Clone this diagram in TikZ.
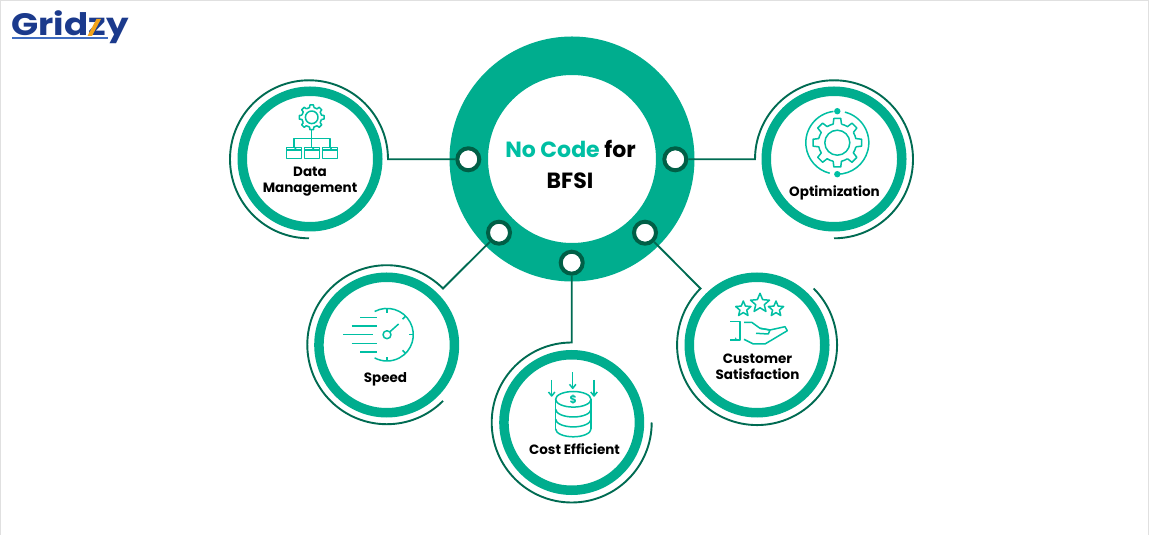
\documentclass[tikz,border=0pt]{standalone}
\usepackage{fontspec}
\setmainfont{Poppins}
\usepackage{xcolor}

\definecolor{ringteal}{HTML}{00AD8E}
\definecolor{iconteal}{HTML}{00BFA3}
\definecolor{wiregreen}{HTML}{006B52}
\definecolor{dotgreen}{HTML}{005F46}
\definecolor{logonavy}{HTML}{1B3A8C}
\definecolor{logoline}{HTML}{3F6CC0}
\definecolor{logoorange}{HTML}{F2A31B}

\tikzset{
  hubring/.style={circle, draw=ringteal, line width=38.5pt, minimum size=206.5pt, inner sep=0pt, fill=white},
  topicring/.style={circle, draw=ringteal, line width=9.5pt, minimum size=135.5pt, inner sep=0pt, fill=white},
  portdot/.style={circle, draw=dotgreen, line width=4pt, minimum size=22pt, inner sep=0pt, fill=white},
  wire/.style={draw=wiregreen, line width=1.9pt},
  iconline/.style={draw=iconteal, line width=1.5pt, line join=round},
  topiclabel/.style={font=\bfseries\fontsize{13.5}{16}\selectfont, align=center, inner sep=0pt, text=black},
}

% gear outline: teeth, root radius, tip radius
\newcommand{\gearline}[3]{
  \pgfmathsetmacro{\gearstep}{360/#1}
  \foreach \i in {1,...,#1}{
    \pgfmathsetmacro{\ga}{(\i-1)*\gearstep+90}
    \pgfmathsetmacro{\gw}{\gearstep*0.28}
    \pgfmathsetmacro{\gt}{\gearstep*0.18}
    \draw[iconline] (\ga-\gw:#2) -- (\ga-\gt:#3) -- (\ga+\gt:#3) -- (\ga+\gw:#2)
      arc[start angle=\ga+\gw, end angle=\ga+\gearstep-\gw, radius=#2];
  }
}

% five pointed star round a point: x, y, radius
\newcommand{\starline}[3]{
  \draw[iconline, shift={(#1,#2)}] (90:#3)
    \foreach \k in {1,...,9}{ -- ({90+\k*36}:{#3*(1-0.55*mod(\k,2))}) } -- cycle;
}

\begin{document}
\begin{tikzpicture}[x=1pt, y=1pt]
  \useasboundingbox (0,0) rectangle (1150,535);
  \draw[black!12, line width=1pt] (0.5,0) -- (0.5,534.5) -- (1148.5,534.5) -- (1148.5,0);

  % logo
  \node[anchor=base west, inner sep=0pt, text=logonavy, xscale=1.15, font=\bfseries\fontsize{31}{31}\selectfont] (logo) at (11,499) {Gridzy};
  \fill[logoorange] (87.5,499) -- (92,499) -- (101,516) -- (96.5,516) -- cycle;
  \draw[logoline, line width=1.2pt] (12,497) -- (108,497);

  % hub
  \node[hubring] (hub) at (572,376) {};
  \node[font=\bfseries\fontsize{22}{22}\selectfont, inner sep=0pt] (hubtop) at (570.5,386) {\textcolor{iconteal}{No Code} for};
  \node[font=\bfseries\fontsize{22}{22}\selectfont, inner sep=0pt] (hubbottom) at (570,354.5) {BFSI};

  % topics
  \node[topicring] (data) at (310,376) {};
  \node[topicring] (opt) at (834,376) {};
  \node[topicring] (speed) at (386.7,190) {};
  \node[topicring] (cost) at (571.7,112.5) {};
  \node[topicring] (cust) at (757,190) {};

  % ports
  \node[portdot] (portdata) at (468.3,375.7) {};
  \node[portdot] (portopt) at (675.3,375.7) {};
  \node[portdot] (portspeed) at (499,302.3) {};
  \node[portdot] (portcost) at (571.7,272.3) {};
  \node[portdot] (portcust) at (645,302.3) {};

  % free ends of the wires
  \coordinate (datawire) at (388,375.7);
  \coordinate (optwire) at (755,375.7);
  \coordinate (speedwire) at (443,246.5);
  \coordinate (costwire) at (571.7,192.5);
  \coordinate (custwire) at (700.5,246.5);

  % wires, each runs on into the arc round its topic
  \draw[wire] (portdata) -- (datawire) arc[start angle=0, end angle=270, radius=79];
  \draw[wire] (portopt) -- (optwire) arc[start angle=180, end angle=-90, radius=79];
  \draw[wire] (portspeed) -- (speedwire) arc[start angle=45, end angle=315, radius=79.5];
  \draw[wire] (portcost) -- (costwire) arc[start angle=90, end angle=360, radius=80];
  \draw[wire] (portcust) -- (custwire) arc[start angle=135, end angle=405, radius=80];

  % labels
  \node[topiclabel] (datatext) at (310,353) {Data\\Management};
  \node[topiclabel] (opttext) at (834.5,342.5) {Optimization};
  \node[topiclabel] (speedtext) at (385.5,155.5) {Speed};
  \node[topiclabel] (costtext) at (574.5,85.5) {Cost Efficient};
  \node[topiclabel] (custtext) at (757.5,168.5) {Customer\\Satisfaction};

  % data icon
  \begin{scope}[shift={(311.7,417.7)}]
    \gearline{8}{10}{12.5}
    \draw[iconline] (0,0) circle (6.3);
  \end{scope}
  \draw[iconline] (311.7,405) -- (311.7,387.7);
  \draw[iconline] (294,388) -- (294,396.7) -- (330,396.7) -- (330,388);
  \foreach \fx in {286.7,304.5,322.3}{
    \draw[iconline] (\fx,376.7) rectangle ++(15,11);
    \draw[iconline] (\fx,385) -- ++(15,0);
    \draw[iconline] (\fx+8,387.7) -- ++(1.5,-2.7);
  }

  % optimization icon
  \begin{scope}[shift={(837.3,392.3)}]
    \gearline{8}{19}{24.5}
    \draw[iconline] (0,0) circle (12.5);
    \draw[iconline] (97:31.5) arc[start angle=97, end angle=256, radius=31.5];
    \draw[iconline] (76:31.5) arc[start angle=76, end angle=-90, radius=31.5];
    \fill[iconteal] (0,31.5) circle (3.2) (0,-31.5) circle (3.2);
  \end{scope}

  % speed icon
  \begin{scope}[shift={(387,200.3)}]
    \draw[iconline] (118:26.3) arc[start angle=118, end angle=-118, radius=26.3];
    \foreach \ta in {90,45,0,-45,-90}
      \draw[iconline] (\ta:26.3) -- (\ta:22);
    \draw[iconline] (0,0) circle (4);
    \draw[iconline] (3,3) -- (11.6,10.7);
    \foreach \sy/\sxa/\sxb in {17.4/-27/-10,8.7/-35.3/-10.3,0/-43.7/-13.7,-8.7/-35.3/-10.3,-17.4/-27/-10}
      \draw[iconline] (\sxa,\sy) -- (\sxb,\sy);
  \end{scope}

  % cost icon
  \begin{scope}[shift={(573.3,135.7)}]
    \foreach \cy in {-9.9,-19.8,-29.7}
      \draw[iconline] (-17.7,\cy) arc[start angle=180, end angle=360, x radius=17.7, y radius=7.8];
    \draw[iconline] (0,0) ellipse (17.7 and 7.8);
    \draw[iconline] (-17.7,0) -- (-17.7,-29.7);
    \draw[iconline] (17.7,0) -- (17.7,-29.7);
    \node[text=iconteal, font=\bfseries\fontsize{11}{11}\selectfont, inner sep=0pt] (dollar) at (0,0) {\$};
    \foreach \ax/\ay in {-21.6/3.3,-0.6/11,20.7/3.3}{
      \draw[iconline] (\ax,\ay+16) -- (\ax,\ay);
      \draw[iconline] (\ax-3.2,\ay+4) -- (\ax,\ay) -- (\ax+3.2,\ay+4);
    }
  \end{scope}

  % satisfaction icon
  \begin{scope}[shift={(757,190)}]
    \starline{3}{41.7}{10}
    \starline{-13.7}{36}{8}
    \starline{19}{36}{8}
    \draw[iconline] (-27,23.3) -- (-17,23.3) -- (-17,5) -- (-27,5);
    \fill[iconteal] (-21.3,6.7) circle (0.8);
    \draw[iconline] (-13,22.7) -- (-5.3,22.7) -- (3,16.7) -- (13,15) -- (28,18.3) -- (30.3,14.3) -- (8,1) -- (-3.7,1) -- (-13,5.7);
    \draw[iconline] (3,16.7) -- (13,15) -- (11.3,11) -- (-1,11.7);
  \end{scope}
\end{tikzpicture}
\end{document}
